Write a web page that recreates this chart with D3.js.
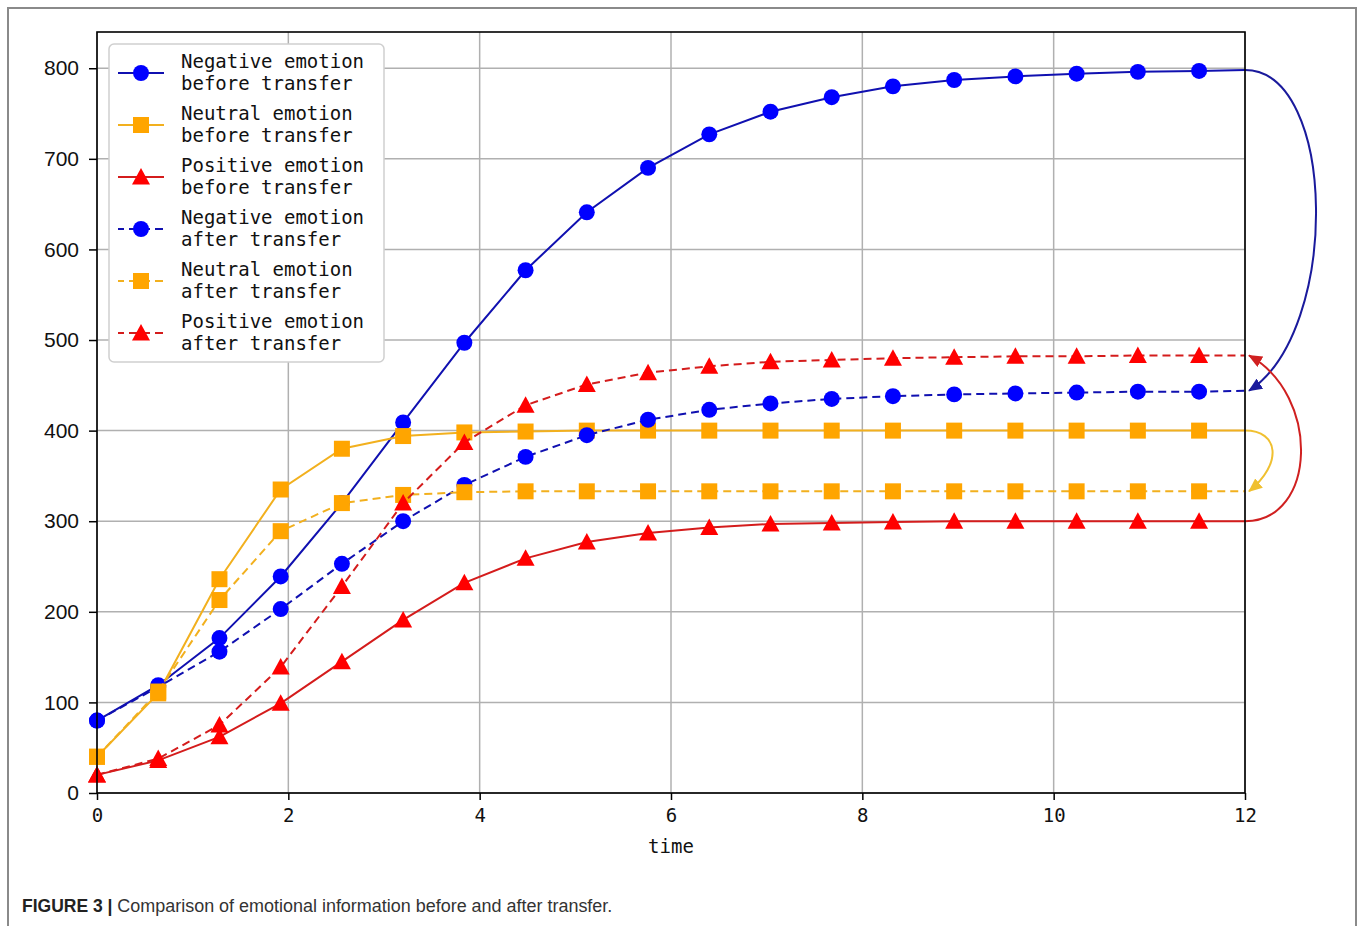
<!DOCTYPE html>
<html>
<head>
<meta charset="utf-8">
<script src="https://cdn.jsdelivr.net/npm/d3@7.9.0/dist/d3.min.js"></script>
<style>
  body { margin: 0; background: #fff; }
</style>
</head>
<body>
<svg id="chart" width="1360" height="926"></svg>
<script>
// time steps (markers drawn on all but the last one)
const times = [0, 0.64, 1.28, 1.92, 2.56, 3.2, 3.84, 4.48, 5.12, 5.76, 6.4, 7.04, 7.68, 8.32, 8.96, 9.6, 10.24, 10.88, 11.52, 12];

// emotion counts
const negBefore = [80, 119, 171, 239, 320, 409, 497, 577, 641, 690, 727, 752, 768, 780, 787, 791, 794, 796, 797, 798];
const neuBefore = [40, 110, 236, 335, 380, 394, 398, 399, 400, 400, 400, 400, 400, 400, 400, 400, 400, 400, 400, 400];
const posBefore = [20, 36, 62, 99, 145, 191, 232, 259, 277, 287, 293, 297, 298, 299, 300, 300, 300, 300, 300, 300];
const negAfter = [80, 117, 156, 203, 253, 300, 340, 371, 395, 412, 423, 430, 435, 438, 440, 441, 442, 443, 443, 444];
const neuAfter = [40, 112, 213, 289, 320, 329, 332, 333, 333, 333, 333, 333, 333, 333, 333, 333, 333, 333, 333, 333];
const posAfter = [20, 38, 75, 139, 228, 320, 387, 428, 451, 464, 471, 476, 478, 480, 481, 482, 482, 483, 483, 483];

const xTicks = [0, 2, 4, 6, 8, 10, 12];
const yTicks = [0, 100, 200, 300, 400, 500, 600, 700, 800];

const series = [
  { label: ['Negative emotion', 'before transfer'], values: negBefore, line: '#1010b0', fill: '#0000ff', shape: 'circle', dashed: false },
  { label: ['Neutral emotion', 'before transfer'], values: neuBefore, line: '#f2b01e', fill: '#ffa500', shape: 'square', dashed: false },
  { label: ['Positive emotion', 'before transfer'], values: posBefore, line: '#d41c1c', fill: '#ff0000', shape: 'triangle', dashed: false },
  { label: ['Negative emotion', 'after transfer'], values: negAfter, line: '#1010b0', fill: '#0000ff', shape: 'circle', dashed: true },
  { label: ['Neutral emotion', 'after transfer'], values: neuAfter, line: '#f2b01e', fill: '#ffa500', shape: 'square', dashed: true },
  { label: ['Positive emotion', 'after transfer'], values: posAfter, line: '#d41c1c', fill: '#ff0000', shape: 'triangle', dashed: true },
];

// before -> after arrows at the right edge
const transfers = [
  { from: negBefore, to: negAfter, color: '#1a1a9c', bend: 92, approach: -60 },
  { from: neuBefore, to: neuAfter, color: '#f0c030', bend: 34, approach: -28 },
  { from: posBefore, to: posAfter, color: '#d02020', bend: 72, approach: 40 },
];

const svg = d3.select('#chart');
const x = d3.scaleLinear().domain([0, 12]).range([97, 1245]);
const y = d3.scaleLinear().domain([0, 840]).range([793, 32]);

// outer figure frame
svg.append('path')
  .attr('d', 'M8,930 V8 H1356 V930')
  .attr('fill', 'none')
  .attr('stroke', '#8a8a8a')
  .attr('stroke-width', 2);

// grid
svg.append('g').selectAll('line').data(xTicks).join('line')
  .attr('x1', (d) => x(d)).attr('x2', (d) => x(d))
  .attr('y1', y.range()[0]).attr('y2', y.range()[1])
  .attr('stroke', '#b0b0b0').attr('stroke-width', 1.5);
svg.append('g').selectAll('line').data(yTicks).join('line')
  .attr('x1', x.range()[0]).attr('x2', x.range()[1])
  .attr('y1', (d) => y(d)).attr('y2', (d) => y(d))
  .attr('stroke', '#b0b0b0').attr('stroke-width', 1.5);

// marker shapes
function markerPath(shape) {
  if (shape === 'circle') return d3.symbol(d3.symbolCircle, 200)();
  if (shape === 'square') return 'M-8,-8H8V8H-8Z';
  return 'M0,-9L9,7.5H-9Z';
}

// lines + markers
const line = d3.line().x((d, i) => x(times[i])).y((d) => y(d));

series.forEach((s) => {
  const g = svg.append('g');
  g.append('path')
    .attr('d', line(s.values))
    .attr('fill', 'none')
    .attr('stroke', s.line)
    .attr('stroke-width', 2)
    .attr('stroke-dasharray', s.dashed ? '8,5' : null);
  g.selectAll('path.mk').data(s.values.slice(0, -1)).join('path')
    .attr('class', 'mk')
    .attr('d', markerPath(s.shape))
    .attr('transform', (d, i) => `translate(${x(times[i])},${y(d)})`)
    .attr('fill', s.fill);
});

// arrow heads
const defs = svg.append('defs');
transfers.forEach((t, i) => {
  defs.append('marker')
    .attr('id', 'arrow' + i)
    .attr('viewBox', '0 0 14 12')
    .attr('refX', 13).attr('refY', 6)
    .attr('markerWidth', 14).attr('markerHeight', 12)
    .attr('markerUnits', 'userSpaceOnUse')
    .attr('orient', 'auto')
    .append('path')
    .attr('d', 'M0,0L14,6L0,12Z')
    .attr('fill', t.color);
});

transfers.forEach((t, i) => {
  const x0 = x(12), y0 = y(t.from[t.from.length - 1]);
  const x1 = x(12) + 4, y1 = y(t.to[t.to.length - 1]);
  const p = d3.path();
  p.moveTo(x0, y0);
  p.bezierCurveTo(x0 + t.bend, y0, x1 + t.bend, y1 + t.approach, x1, y1);
  svg.append('path')
    .attr('d', p.toString())
    .attr('fill', 'none')
    .attr('stroke', t.color)
    .attr('stroke-width', 2)
    .attr('marker-end', `url(#arrow${i})`);
});

// axes frame
svg.append('rect')
  .attr('x', x.range()[0]).attr('y', y.range()[1])
  .attr('width', x.range()[1] - x.range()[0])
  .attr('height', y.range()[0] - y.range()[1])
  .attr('fill', 'none').attr('stroke', '#000').attr('stroke-width', 1.6);

const yAxis = svg.append('g')
  .attr('transform', `translate(${x.range()[0]},0)`)
  .call(d3.axisLeft(y).tickValues(yTicks).tickSize(8).tickPadding(10));
yAxis.select('.domain').remove();
yAxis.selectAll('line').attr('stroke-width', 1.5);
yAxis.selectAll('text')
  .attr('font-family', '"Liberation Sans", Arial, sans-serif')
  .attr('font-size', 21).attr('fill', '#111');

const xAxis = svg.append('g')
  .attr('transform', `translate(0,${y.range()[0]})`)
  .call(d3.axisBottom(x).tickValues(xTicks).tickSize(7).tickPadding(9));
xAxis.select('.domain').remove();
xAxis.selectAll('line').attr('stroke-width', 1.5);
xAxis.selectAll('text')
  .attr('font-family', '"DejaVu Sans Mono", monospace')
  .attr('font-size', 19).attr('fill', '#111');

svg.append('text')
  .attr('x', (x.range()[0] + x.range()[1]) / 2).attr('y', 853)
  .attr('text-anchor', 'middle')
  .attr('font-family', '"DejaVu Sans Mono", monospace')
  .attr('font-size', 19).attr('fill', '#111')
  .text('time');

// legend
const legend = svg.append('g');
legend.append('rect')
  .attr('x', 109).attr('y', 44).attr('width', 275).attr('height', 318)
  .attr('rx', 5)
  .attr('fill', '#fff').attr('stroke', '#cfcfcf').attr('stroke-width', 1.5);

series.forEach((s, i) => {
  const cy = 73 + i * 52;
  const g = legend.append('g');
  g.append('line')
    .attr('x1', 118).attr('x2', 164).attr('y1', cy).attr('y2', cy)
    .attr('stroke', s.line).attr('stroke-width', 2)
    .attr('stroke-dasharray', s.dashed ? '8,5' : null)
    .attr('stroke-dashoffset', s.dashed ? 2 : null);
  g.append('path')
    .attr('d', markerPath(s.shape))
    .attr('transform', `translate(141,${cy})`)
    .attr('fill', s.fill);
  g.selectAll('text').data(s.label).join('text')
    .attr('x', 181).attr('y', (d, j) => cy - 5 + j * 22)
    .attr('font-family', '"DejaVu Sans Mono", monospace')
    .attr('font-size', 19).attr('fill', '#111')
    .text((d) => d);
});

// caption
const cap = svg.append('text')
  .attr('x', 22).attr('y', 912)
  .attr('font-family', '"Liberation Sans", Arial, sans-serif')
  .attr('font-size', 17.5).attr('fill', '#222');
cap.append('tspan').attr('font-weight', 'bold').text('FIGURE 3 | ');
cap.append('tspan').attr('fill', '#333')
  .attr('textLength', 495).attr('lengthAdjust', 'spacingAndGlyphs')
  .text('Comparison of emotional information before and after transfer.');
</script>
</body>
</html>
